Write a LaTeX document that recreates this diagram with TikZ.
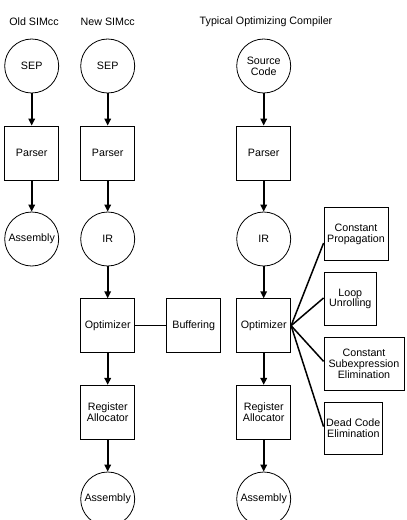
\documentclass[tikz,border=0pt]{standalone}
\usepackage{fontspec}
\setmainfont{Liberation Sans}
\usetikzlibrary{arrows.meta}
\begin{document}
\begin{tikzpicture}[x=1pt,y=-1pt,
  every node/.style={font=\fontsize{10.7}{10.8}\selectfont, align=center, inner sep=0pt},
  circ/.style={draw, circle, minimum size=54pt, line width=0.8pt},
  box/.style={draw, rectangle, minimum width=54pt, minimum height=54pt, line width=0.8pt},
  flow/.style={line width=1.7pt, -{Triangle[length=7pt,width=6.5pt]}},
  link/.style={line width=1.2pt},
  fan/.style={line width=1.5pt}]
\useasboundingbox (0,0) rectangle (407,520);
\clip (0,0) rectangle (407,520);
% titles
\node (t1) at (34,22) {Old SIMcc};
\node (t2) at (107.7,22) {New SIMcc};
\node (t3) at (266,22) {Typical Optimizing Compiler};
% column 1
\node[circ] (a1) at (31.7,66) {SEP};
\node[box] (a2) at (31.7,153) {Parser};
\node[circ] (a3) at (31.7,239) {Assembly};
\draw[flow] (a1) -- (a2);
\draw[flow] (a2) -- (a3);
% column 2
\node[circ] (b1) at (107.7,66) {SEP};
\node[box] (b2) at (107.7,153) {Parser};
\node[circ] (b3) at (107.7,239) {IR};
\node[box] (b4) at (107.7,325.7) {Optimizer};
\node[box] (b5) at (107.7,412.3) {Register\\Allocator};
\node[circ] (b6) at (107.7,499) {Assembly};
\node[box] (buf) at (193.7,325.7) {Buffering};
\draw[flow] (b1) -- (b2);
\draw[flow] (b2) -- (b3);
\draw[flow] (b3) -- (b4);
\draw[flow] (b4) -- (b5);
\draw[flow] (b5) -- (b6);
\draw[link] (b4) -- (buf);
% column 3
\node[circ] (c1) at (263.7,66) {Source\\Code};
\node[box] (c2) at (263.7,153) {Parser};
\node[circ] (c3) at (263.7,239) {IR};
\node[box] (c4) at (263.7,325.7) {Optimizer};
\node[box] (c5) at (263.7,412.3) {Register\\Allocator};
\node[circ] (c6) at (263.7,499) {Assembly};
\draw[flow] (c1) -- (c2);
\draw[flow] (c2) -- (c3);
\draw[flow] (c3) -- (c4);
\draw[flow] (c4) -- (c5);
\draw[flow] (c5) -- (c6);
% optimizations
\node[box, minimum width=64pt, minimum height=53pt] (o1) at (356,234) {Constant\\Propagation};
\node[box, minimum width=52.7pt, minimum height=52.7pt] (o2) at (350.3,299) {Loop\\Unrolling};
\node[box, minimum width=80pt, minimum height=52.7pt] (o3) at (364,363.7) {Constant\\Subexpression\\Elimination};
\node[box, minimum width=58.7pt, minimum height=52.7pt] (o4) at (353.3,428.3) {Dead Code\\Elimination};
\draw[fan] (c4.east) -- ([yshift=-9pt]o1.west);
\draw[fan] (c4.east) -- ([yshift=1pt]o2.west);
\draw[fan] (c4.east) -- ([yshift=2.3pt]o3.west);
\draw[fan] (c4.east) -- ([yshift=1.7pt]o4.west);
\end{tikzpicture}
\end{document}
